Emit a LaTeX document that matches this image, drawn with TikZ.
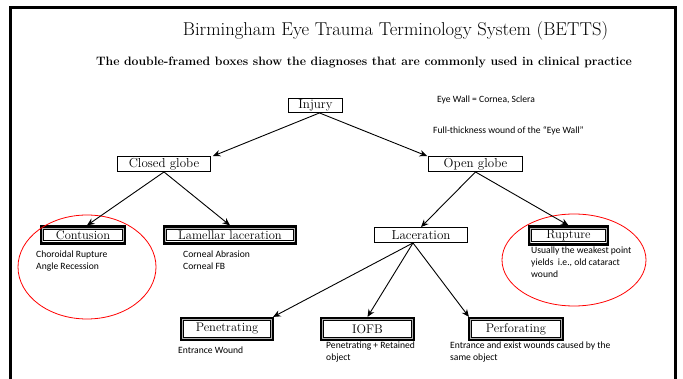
\documentclass[tikz,border=0pt]{standalone}
\usepackage{fontspec}
\newfontfamily\calib{Carlito}
\usetikzlibrary{arrows.meta}
\begin{document}
\begin{tikzpicture}[x=1pt,y=-1pt,
  sbox/.style={draw, line width=0.9pt, inner sep=0pt, align=center,
    font=\fontsize{13}{13}\selectfont},
  dbox/.style={draw, line width=2.2pt, inner sep=0pt, align=center,
    font=\fontsize{12.5}{12.5}\selectfont,
    path picture={
      \draw[gray!60, line width=0.8pt] ([shift={(1.5pt,-1.5pt)}]path picture bounding box.north west) rectangle ([shift={(-1.5pt,1.5pt)}]path picture bounding box.south east);
      \draw[black, line width=0.7pt] ([shift={(2.7pt,-2.7pt)}]path picture bounding box.north west) rectangle ([shift={(-2.7pt,2.7pt)}]path picture bounding box.south east);
    }},
  note/.style={inner sep=0pt, align=left, anchor=north west,
    font=\calib\fontsize{9.6}{11.8}\selectfont},
  arr/.style={-{Stealth[length=7.5pt,width=6.5pt]}, line width=0.9pt},
  ring/.style={draw=red, line width=0.8pt}]
\useasboundingbox (0,0) rectangle (683,379);
% frame
\draw[line width=3pt] (10,380) -- (10,8) -- (675,8) -- (675,380);
% titles
\node[inner sep=0pt, font=\fontsize{18.6}{19}\selectfont] (title) at (395.5,31) {Birmingham Eye Trauma Terminology System (BETTS)};
\node[inner sep=0pt, font=\bfseries\fontsize{12.2}{13}\selectfont] (sub) at (364,62) {The double-framed boxes show the diagnoses that are commonly used in clinical practice};
% nodes
\node[sbox, minimum width=54pt, minimum height=14pt] (inj) at (315.5,105.5) {Injury};
\node[sbox, minimum width=93pt, minimum height=15pt] (cg) at (164,164) {Closed globe};
\node[sbox, minimum width=94pt, minimum height=15pt] (og) at (475.5,164) {Open globe};
\node[sbox, minimum width=93pt, minimum height=15pt] (lac) at (421,235) {Laceration};
\node[dbox, minimum width=84pt, minimum height=17pt] (con) at (83,235) {Contusion};
\node[dbox, minimum width=132pt, minimum height=17pt] (lam) at (230,235) {Lamellar laceration};
\node[dbox, minimum width=79pt, minimum height=18pt] (rup) at (568.5,235.5) {Rupture};
\node[dbox, minimum width=92pt, minimum height=22pt] (pen) at (227,329) {Penetrating};
\node[dbox, minimum width=93pt, minimum height=22pt] (iofb) at (367.5,329) {IOFB};
\node[dbox, minimum width=94pt, minimum height=22pt] (perf) at (516,329) {Perforating};
% notes
\node[note, anchor=west] (ew) at (437,100) {Eye Wall = Cornea, Sclera};
\node[note, anchor=west] (ft) at (433,131) {Full-thickness wound of the “Eye Wall”};
\node[note] (cn) at (36,251) {Choroidal Rupture\\Angle Recession};
\node[note] (ln) at (183,251) {Corneal Abrasion\\Corneal FB};
\node[note] (rn) at (531,247) {Usually the weakest point\\yields\ \ i.e., old cataract\\wound};
\node[note] (pn) at (178,347) {Entrance Wound};
\node[note] (in) at (326,342) {Penetrating + Retained\\object};
\node[note] (fn) at (450,342) {Entrance and exist wounds caused by the\\same object};
% ellipses
\draw[ring] (87,267) ellipse [x radius=69, y radius=52];
\draw[ring] (574,260) ellipse [x radius=72, y radius=46];
% connectors
\draw[arr] ([xshift=4pt]inj.south) -- ([xshift=2pt]cg.north east);
\draw[arr] ([xshift=4pt]inj.south) -- ([xshift=-1pt]og.north west);
\draw[arr] (cg.south) -- ([xshift=4pt]con.north);
\draw[arr] (cg.south) -- (lam.north);
\draw[arr] (og.south) -- (lac.north);
\draw[arr] (og.south) -- (rup.north);
\draw[arr] ([xshift=-8pt]lac.south) -- ([xshift=-1pt]pen.north east);
\draw[arr] ([xshift=-8pt]lac.south) -- (iofb.north);
\draw[arr] ([xshift=-8pt]lac.south) -- ([xshift=1pt]perf.north west);
\end{tikzpicture}
\end{document}
